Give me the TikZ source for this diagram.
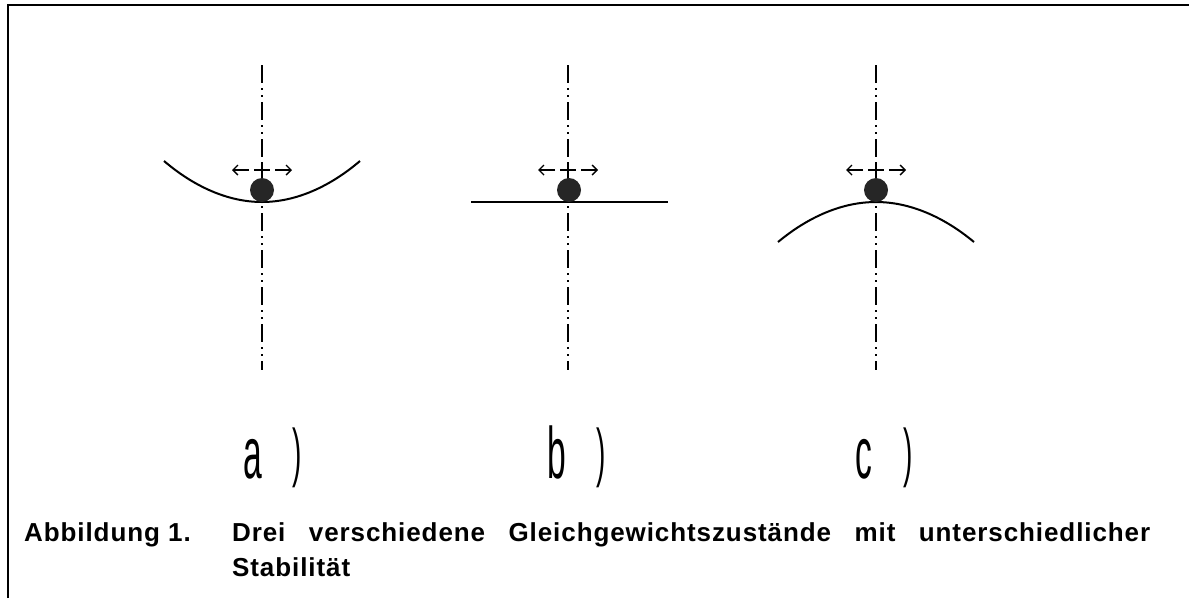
\documentclass[tikz,border=0pt]{standalone}
\usepackage{fontspec}
\setmainfont{Liberation Sans}
\newfontfamily\captionfont[LetterSpace=3.5]{Liberation Sans}
\usetikzlibrary{arrows.meta}
\begin{document}
\begin{tikzpicture}[x=1pt,y=-1pt,
  axisline/.style={line width=1.8pt, dash pattern=on 18pt off 5pt on 2pt off 5pt on 2pt off 5pt},
  curve/.style={line width=2pt},
  ball/.style={circle, fill=black!85, minimum size=24pt, inner sep=0pt},
  shiftarrow/.style={line width=1.4pt, -{Straight Barb[length=5pt,width=10pt]}},
  crossline/.style={line width=1.4pt},
  lbl/.style={font=\fontsize{56}{56}\selectfont, inner sep=0pt, anchor=base},
  captiontext/.style={font=\captionfont\fontsize{26}{35}\selectfont\bfseries, inner sep=0pt}]
\useasboundingbox (0,0) rectangle (1189,598);
\fill[white] (0,0) rectangle (1189,598);
% frame
\draw[line width=2pt] (8,598) -- (8,5) -- (1189,5);
% axes
\foreach \x/\n in {262/a,568/b,876/c}{
  \coordinate (top\n) at (\x,65);
  \coordinate (bot\n) at (\x,370);
  \draw[axisline] (top\n) -- (bot\n);
  % shift arrows
  \coordinate (cl\n) at (\x-8,170);
  \coordinate (cr\n) at (\x+8,170);
  \coordinate (tl\n) at (\x-30,170);
  \coordinate (tr\n) at (\x+30,170);
  \coordinate (el\n) at (\x-13,170);
  \coordinate (er\n) at (\x+13,170);
  \draw[crossline] (cl\n) -- (cr\n);
  \draw[crossline] (\x,163) -- (\x,177);
  \draw[shiftarrow] (el\n) -- (tl\n);
  \draw[shiftarrow] (er\n) -- (tr\n);
}
% a) valley
\draw[curve] (164,161) parabola bend (262,202) (360,161);
\node[ball] (balla) at (262,190) {};
% b) flat
\coordinate (bl) at (471,202);
\coordinate (br) at (668,202);
\draw[curve] (bl) -- (br);
\node[ball] (ballb) at (569,190) {};
% c) hill
\draw[curve] (778,242) parabola bend (876,202) (974,242);
\node[ball] (ballc) at (876,190) {};
% labels
\node[lbl] (la) at (253,478) {\scalebox{0.6}[1.3]{a}};
\node[lbl] (lap) at (297,474) {\scalebox{0.5}[1.15]{)}};
\node[lbl] (lb) at (557,478) {\scalebox{0.6}[1.3]{b}};
\node[lbl] (lbp) at (601,474) {\scalebox{0.5}[1.15]{)}};
\node[lbl] (lc) at (864,478) {\scalebox{0.6}[1.3]{c}};
\node[lbl] (lcp) at (908,474) {\scalebox{0.5}[1.15]{)}};
% caption
\node[captiontext, anchor=base west] (capnum) at (24,541) {Abbildung 1.};
\node[captiontext, anchor=base west, text width=918pt, align=justify] (captext) at (232,541)
  {Drei verschiedene Gleichgewichtszustände mit unterschiedlicher\linebreak Stabilität};
\end{tikzpicture}
\end{document}
